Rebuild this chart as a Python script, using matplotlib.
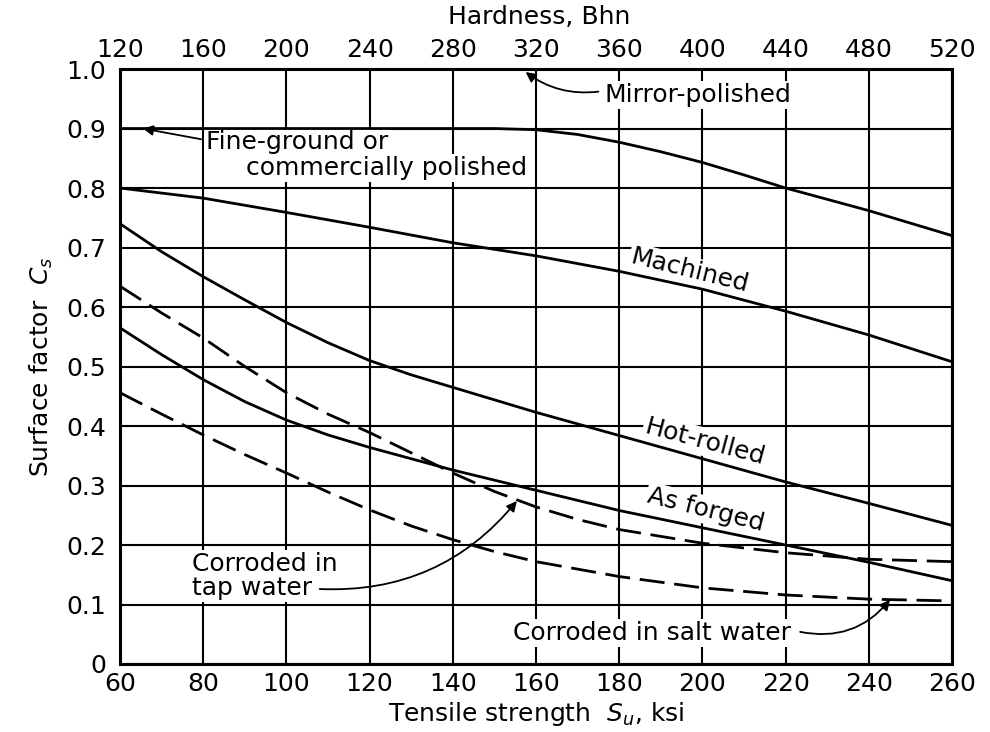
import numpy as np
import matplotlib
matplotlib.use('Agg')
import matplotlib.pyplot as plt

plt.rcParams['font.family'] = ['DejaVu Sans']
plt.rcParams['mathtext.fontset'] = 'dejavusans'

# Surface factor curves vs tensile strength (ksi)
su_fine = [60, 80, 100, 120, 140, 150, 160, 170, 180, 190, 200, 210, 220, 240, 260]
cs_fine = [0.9, 0.9, 0.9, 0.9, 0.9, 0.9, 0.898, 0.89, 0.877, 0.861, 0.843, 0.822, 0.8, 0.762, 0.72]

su_mirror = [60, 260]
cs_mirror = [1.0, 1.0]

su_mach = [60, 80, 100, 120, 140, 160, 180, 200, 220, 240, 260]
cs_mach = [0.8, 0.783, 0.759, 0.734, 0.708, 0.686, 0.66, 0.63, 0.593, 0.553, 0.508]

su_hot = [60, 70, 80, 90, 100, 110, 120, 130, 140, 150, 160, 180, 200, 220, 240, 260]
cs_hot = [0.74, 0.693, 0.651, 0.612, 0.574, 0.54, 0.51, 0.486, 0.465, 0.444, 0.423, 0.384, 0.345, 0.306, 0.27, 0.233]

su_forged = [60, 70, 80, 90, 100, 110, 120, 130, 140, 150, 160, 180, 200, 220, 240, 260]
cs_forged = [0.565, 0.52, 0.478, 0.441, 0.41, 0.385, 0.364, 0.345, 0.326, 0.309, 0.292, 0.258, 0.229, 0.2, 0.171, 0.14]

su_tap = [60, 70, 80, 90, 100, 110, 120, 130, 140, 150, 160, 170, 180, 200, 220, 240, 260]
cs_tap = [0.635, 0.59, 0.548, 0.5, 0.456, 0.42, 0.389, 0.355, 0.321, 0.29, 0.264, 0.243, 0.226, 0.203, 0.187, 0.176, 0.172]

su_salt = [60, 70, 80, 90, 100, 110, 120, 130, 140, 150, 160, 180, 200, 220, 240, 260]
cs_salt = [0.456, 0.42, 0.385, 0.352, 0.321, 0.289, 0.259, 0.232, 0.209, 0.189, 0.172, 0.147, 0.128, 0.116, 0.109, 0.106]

x_ticks = np.arange(60, 261, 20)
y_ticks = np.round(np.arange(0, 1.01, 0.1), 1)
bhn_ticks = np.arange(120, 521, 40)

fs = 18

fig = plt.figure(figsize=(9.9, 7.32), dpi=100)
ax = fig.add_axes([0.1212, 0.0929, 0.8404, 0.8128])

lw = 2.0
ax.plot(su_mirror, cs_mirror, 'k', lw=lw, zorder=3)
ax.plot(su_fine, cs_fine, 'k', lw=lw, zorder=3)
ax.plot(su_mach, cs_mach, 'k', lw=lw, zorder=3)
ax.plot(su_hot, cs_hot, 'k', lw=lw, zorder=3)
ax.plot(su_forged, cs_forged, 'k', lw=lw, zorder=3)
ax.plot(su_tap, cs_tap, 'k', lw=lw, dashes=(9, 3.5), zorder=3)
ax.plot(su_salt, cs_salt, 'k', lw=lw, dashes=(9, 3.5), zorder=3)

ax.set_xlim(60, 260)
ax.set_ylim(0, 1.0)
ax.set_xticks(x_ticks)
ax.set_yticks(y_ticks)
ax.set_yticklabels(['0' if v == 0 else '%.1f' % v for v in y_ticks])
ax.tick_params(length=0, labelsize=fs)
ax.tick_params(axis='y', pad=10)
ax.tick_params(axis='x', pad=6)
ax.set_axisbelow(True)
ax.grid(True, color='k', lw=1.5)
for s in ax.spines.values():
    s.set_linewidth(2.2)

# hardness scale along the top
top = ax.secondary_xaxis('top', functions=(lambda k: 2 * k, lambda b: b / 2))
top.set_xticks(bhn_ticks)
top.tick_params(length=0, labelsize=fs, pad=5)
fig.text(0.545, 1 - 17 / 732, 'Hardness, Bhn', fontsize=fs, ha='center', va='center')

ax.set_xlabel('Tensile strength  $S_u$, ksi', fontsize=fs, labelpad=3)
ax.set_ylabel('Surface factor  $C_s$', fontsize=fs, labelpad=8)

box = dict(facecolor='white', edgecolor='none', pad=1.5)
tkw = dict(fontsize=fs, bbox=box, zorder=2)
akw = dict(arrowstyle='-|>', color='k', lw=1.3, mutation_scale=15, shrinkA=0, shrinkB=0)

ax.text(176.5, 0.957, 'Mirror-polished', ha='left', va='center', **tkw)
ax.annotate('', xy=(157.5, 0.995), xytext=(175.0, 0.962),
            arrowprops=dict(connectionstyle='arc3,rad=-0.2', **akw), zorder=4)

ax.text(80.7, 0.878, 'Fine-ground or', ha='left', va='center', **tkw)
ax.text(90.3, 0.834, 'commercially polished', ha='left', va='center', **tkw)
ax.annotate('', xy=(65.5, 0.9), xytext=(79.5, 0.882),
            arrowprops=dict(connectionstyle='arc3,rad=0.0', **akw), zorder=4)

ax.text(197.0, 0.661, 'Machined', ha='center', va='center', rotation=-14, **tkw)
ax.text(200.6, 0.373, 'Hot-rolled', ha='center', va='center', rotation=-15, **tkw)
ax.text(200.9, 0.259, 'As forged', ha='center', va='center', rotation=-14, **tkw)

ax.text(77.4, 0.148, 'Corroded in\ntap water', ha='left', va='center',
        linespacing=1.0, **tkw)
ax.annotate('', xy=(155.4, 0.274), xytext=(108.0, 0.126),
            arrowprops=dict(connectionstyle='arc3,rad=0.25', **akw), zorder=4)

ax.text(188.0, 0.052, 'Corroded in salt water', ha='center', va='center', **tkw)
ax.annotate('', xy=(245.1, 0.108), xytext=(223.5, 0.054),
            arrowprops=dict(connectionstyle='arc3,rad=0.3', **akw), zorder=4)

fig.savefig('out.png', dpi=100, facecolor='white')
